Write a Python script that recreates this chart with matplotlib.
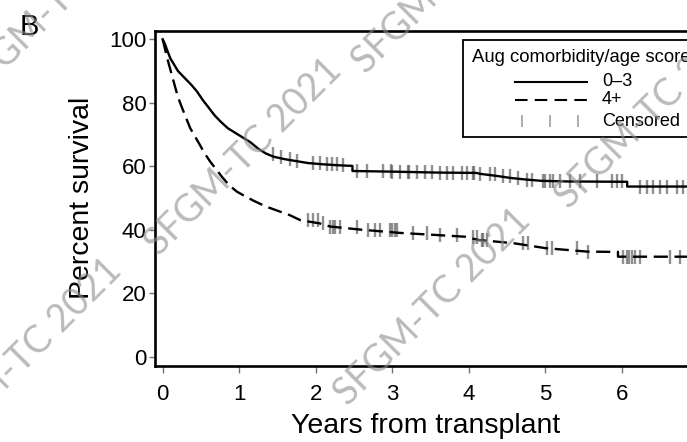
import matplotlib
matplotlib.use("Agg")
import matplotlib.pyplot as plt
from matplotlib.lines import Line2D
from matplotlib.patches import Rectangle
import numpy as np

plt.rcParams['font.family'] = ['Liberation Sans', 'DejaVu Sans']

# Kaplan-Meier estimates, percent survival by years from transplant
# (a repeated time marks a visible step drop)
years_low = [0, 0.03, 0.06, 0.1, 0.15, 0.2, 0.26, 0.32, 0.38, 0.45, 0.52, 0.6,
             0.68, 0.76, 0.85, 0.95, 1.05, 1.15, 1.25, 1.35, 1.45, 1.6, 1.75,
             1.9, 2.1, 2.3, 2.48, 2.48, 3.0, 3.6, 4.1, 4.15, 4.35, 4.55, 4.75,
             4.95, 5.3, 6.07, 6.07]
surv_low = [100, 98.5, 96.5, 94, 92, 90, 88.5, 87, 85.5, 83.5, 81, 78.5, 76,
            74, 72, 70.5, 69, 67.5, 65.5, 64, 63, 62.2, 61.6, 61, 60.6, 60.3,
            60.1, 58.5, 58.3, 58.0, 57.9, 57.6, 57.0, 56.3, 55.8, 55.4, 55.2,
            55.1, 53.6]

years_high = [0, 0.03, 0.06, 0.1, 0.14, 0.18, 0.22, 0.26, 0.31, 0.36, 0.42,
              0.48, 0.55, 0.62, 0.7, 0.78, 0.87, 0.97, 1.08, 1.2, 1.35, 1.5,
              1.66, 1.8, 2.05, 2.19, 2.6, 3.1, 3.6, 3.95, 4.12, 4.6, 5.0, 5.55,
              5.95, 5.95]
surv_high = [100, 97, 94, 90.5, 87, 83.5, 80.5, 78, 75, 72, 69.5, 67, 64, 61.5,
             59, 56.5, 54, 52, 50.5, 49, 47.3, 46, 44.6, 43, 42, 41, 40, 39,
             38.3, 37.8, 36.8, 35.7, 34.2, 33.1, 33.0, 31.5]

# censoring times
cens_low = [1.44, 1.55, 1.66, 1.75, 1.97, 2.06, 2.15, 2.21, 2.28, 2.36, 2.54,
            2.67, 2.88, 2.98, 3.0, 3.1, 3.2, 3.22, 3.32, 3.43, 3.52, 3.62,
            3.72, 3.79, 3.91, 3.98, 4.06, 4.07, 4.15, 4.28, 4.34, 4.45, 4.54,
            4.64, 4.76, 4.83, 4.97, 5.0, 5.06, 5.1, 5.19, 5.32, 5.45, 5.68,
            5.87, 5.94, 6.0, 6.24, 6.33, 6.41, 6.5, 6.59, 6.72, 6.8]
cens_high = [1.9, 1.97, 2.03, 2.1, 2.19, 2.22, 2.25, 2.32, 2.54, 2.68, 2.77,
             2.84, 2.97, 3.0, 3.04, 3.06, 3.27, 3.45, 3.63, 3.85, 4.05, 4.11,
             4.17, 4.19, 4.24, 4.71, 4.77, 5.02, 5.09, 5.42, 5.56, 6.02, 6.07,
             6.1, 6.13, 6.17, 6.24, 6.63, 6.76]

xticks = [0, 1, 2, 3, 4, 5, 6, 7]
yticks = [0, 20, 40, 60, 80, 100]
legend_title = 'Aug comorbidity/age score'
group_labels = ['0\u20133', '4+']
watermark = 'SFGM-TC 2021'

W, H = 687, 442
XMAX = 7.1
CENS_COLOR = '0.38'


def surv_at(t, times, surv):
    idx = np.searchsorted(times, t, side='right') - 1
    return np.asarray(surv)[idx]


def px(x, y):
    return x / W, 1 - y / H


fig = plt.figure(figsize=(W / 100, H / 100), dpi=100)
ax = fig.add_axes([155 / W, (H - 365.7) / H, 551 / W, 335 / H])

ax.plot(np.append(years_low, XMAX), np.append(surv_low, surv_low[-1]),
        color='k', lw=1.7, zorder=3)
ax.plot(np.append(years_high, XMAX), np.append(surv_high, surv_high[-1]),
        color='k', lw=1.7, dashes=(6, 2.8), zorder=3)

for cens, t, s in [(cens_low, years_low, surv_low),
                   (cens_high, years_high, surv_high)]:
    ax.plot(cens, surv_at(cens, t, s), ls='none', marker='|', ms=10,
            mew=1.7, color=CENS_COLOR, alpha=0.7, zorder=2)

ax.set_xlim(-0.1, XMAX)
ax.set_ylim(-2.84, 102.7)
ax.set_xticks(xticks)
ax.set_yticks(yticks)
ax.tick_params(axis='both', direction='out', color='0.45', width=1,
               labelsize=16)
ax.tick_params(axis='x', length=5, pad=8)
ax.tick_params(axis='y', length=4, pad=2)
for sp in ax.spines.values():
    sp.set_linewidth(1.9)
    sp.set_color('k')

ax.set_xlabel('Years from transplant', fontsize=20.5)
ax.set_ylabel('Percent survival', fontsize=20.5)
ax.xaxis.set_label_coords(0.492, -0.141)
ax.yaxis.set_label_coords(-0.108, 0.5)

fig.text(*px(20, 35), 'B', fontsize=21, va='baseline')

# legend box, drawn by hand so it can run past the figure edge
fig.patches.append(Rectangle(px(463, 137), (800 - 463) / W, (137 - 40) / H,
                             transform=fig.transFigure, fill=True,
                             facecolor='white', edgecolor='k', lw=1.3,
                             zorder=5))
fig.text(*px(472, 57), legend_title, fontsize=13.3, va='center', zorder=6)
x0, x1 = px(515, 0)[0], px(587, 0)[0]
for yy, lab, style in [(82, group_labels[0], dict()),
                       (100, group_labels[1], dict(dashes=(6, 3.5)))]:
    fig.lines.append(Line2D([x0, x1], [px(0, yy)[1]] * 2, color='k', lw=1.5,
                            transform=fig.transFigure, zorder=6, **style))
    fig.text(*px(602, yy), lab, fontsize=13, va='center', zorder=6)
fig.lines.append(Line2D([px(522, 0)[0], px(550, 0)[0], px(578, 0)[0]],
                        [px(0, 121)[1]] * 3, ls='none', marker='|', ms=9,
                        mew=1.2, color=CENS_COLOR, alpha=0.6,
                        transform=fig.transFigure, zorder=6))
fig.text(*px(602, 121), 'Censored', fontsize=13, va='center', zorder=6)

# watermark stamps
for cx, cy in [(60, 0), (450, -25), (23, 357), (243, 157), (432, 307),
               (653, 110)]:
    fig.text(*px(cx, cy), watermark, fontsize=27, family='Lato',
             rotation=45, ha='center', va='center', color='#8c8c8c',
             alpha=0.6, zorder=10, rotation_mode='anchor')

fig.savefig('out.png', dpi=100)
